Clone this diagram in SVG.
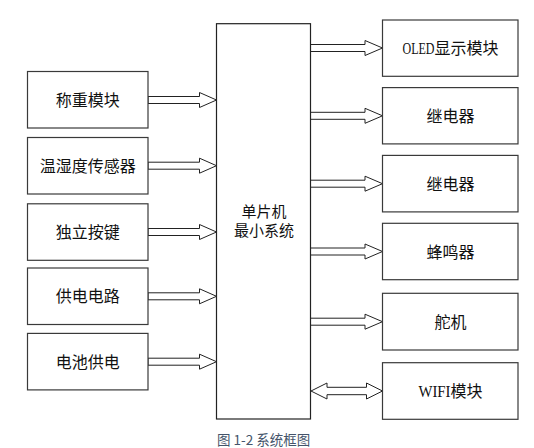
<svg xmlns="http://www.w3.org/2000/svg" width="534" height="448" viewBox="0 0 534 448">
<style>
.box{fill:#fff;stroke:#3a3a3a;stroke-width:1.2}
.cbox{fill:#fff;stroke:#222;stroke-width:1.2}
.arr{fill:#fff;stroke:#222;stroke-width:1}
.t{font-family:"Noto Sans CJK SC","Liberation Sans",sans-serif;font-size:16px;fill:#111;text-anchor:middle}
.c{font-size:15px}
.m{font-family:"Liberation Serif",serif;font-size:16px}
.cap{font-family:"Noto Sans CJK SC","Liberation Sans",sans-serif;font-size:13.5px;fill:#44546a;text-anchor:middle}
</style>
<rect width="534" height="448" fill="#fff"/>
<g id="connectors">
<path class="arr" d="M148,96.5H199.5V92.5L216.5,100L199.5,107.5V103.5H148Z"/>
<path class="arr" d="M148,162.2H199.5V158.2L216.5,165.7L199.5,173.2V169.2H148Z"/>
<path class="arr" d="M148,228.5H199.5V224.5L216.5,232L199.5,239.5V235.5H148Z"/>
<path class="arr" d="M148,292.8H199.5V288.8L216.5,296.3L199.5,303.8V299.8H148Z"/>
<path class="arr" d="M148,358.2H199.5V354.2L216.5,361.7L199.5,369.2V365.2H148Z"/>
<path class="arr" d="M310.5,44.5H365V40.5L382.5,48L365,55.5V51.5H310.5Z"/>
<path class="arr" d="M310.5,112.3H365V108.3L382.5,115.8L365,123.3V119.3H310.5Z"/>
<path class="arr" d="M310.5,180.2H365V176.2L382.5,183.7L365,191.2V187.2H310.5Z"/>
<path class="arr" d="M310.5,248H365V244L382.5,251.5L365,259V255H310.5Z"/>
<path class="arr" d="M310.5,318.2H365V314.2L382.5,321.7L365,329.2V325.2H310.5Z"/>
<path class="arr" d="M311,391L327,383V387.3H366.5V383L382.5,391L366.5,399V394.7H327V399Z"/>
</g>
<g id="mcu"><rect class="cbox" x="216.5" y="23.7" width="94" height="395.3"/>
<text class="t c" x="264" y="216.5">单片机</text><text class="t c" x="264" y="235.5">最小系统</text></g>
<g id="weigh"><rect class="box" x="27.5" y="71.5" width="120.5" height="56.5"/><text class="t" x="87.75" y="106">称重模块</text></g>
<g id="temp"><rect class="box" x="27.5" y="137.5" width="120.5" height="56.5"/><text class="t" x="87.75" y="171.7">温湿度传感器</text></g>
<g id="keys"><rect class="box" x="27.5" y="203.8" width="120.5" height="56.5"/><text class="t" x="87.75" y="238">独立按键</text></g>
<g id="power"><rect class="box" x="27.5" y="268" width="120.5" height="56.5"/><text class="t" x="87.75" y="302.3">供电电路</text></g>
<g id="battery"><rect class="box" x="27.5" y="333.4" width="120.5" height="56.5"/><text class="t" x="87.75" y="367.7">电池供电</text></g>
<g id="oled"><rect class="box" x="382.5" y="20" width="135.5" height="56.3"/><text class="t" x="450.5" y="54"><tspan class="m" textLength="32" lengthAdjust="spacingAndGlyphs">OLED</tspan>显示模块</text></g>
<g id="relay1"><rect class="box" x="382.5" y="87.6" width="135.5" height="56.3"/><text class="t" x="450.5" y="121.8">继电器</text></g>
<g id="relay2"><rect class="box" x="382.5" y="155.4" width="135.5" height="56.5"/><text class="t" x="450.5" y="189.7">继电器</text></g>
<g id="buzzer"><rect class="box" x="382.5" y="223.3" width="135.5" height="56.4"/><text class="t" x="450.5" y="257.5">蜂鸣器</text></g>
<g id="servo"><rect class="box" x="382.5" y="293.3" width="135.5" height="56.7"/><text class="t" x="450.5" y="327.7">舵机</text></g>
<g id="wifi"><rect class="box" x="382.5" y="362.7" width="135.5" height="56.6"/><text class="t" x="450.5" y="397"><tspan class="m" textLength="32" lengthAdjust="spacingAndGlyphs">WIFI</tspan>模块</text></g>
<text class="cap" x="263.7" y="445">图 1-2 系统框图</text>
</svg>
